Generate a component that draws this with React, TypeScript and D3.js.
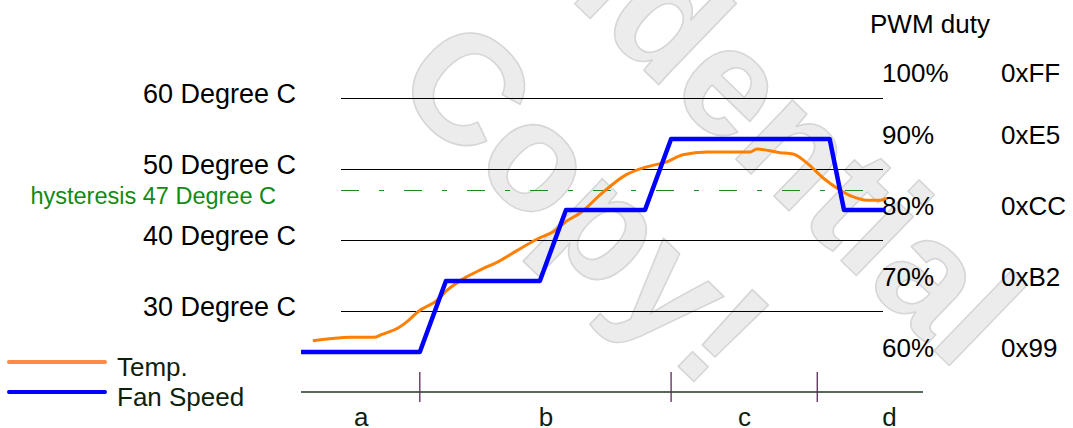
import {curveMonotoneX, line, scaleLinear} from "d3";

const TEMP_LEVELS = [60, 50, 40, 30];
const HYSTERESIS_C = 47;
const PWM_PERCENT = [100, 90, 80, 70, 60];
const PWM_HEX = ["0xFF", "0xE5", "0xCC", "0xB2", "0x99"];
const PHASE_NAMES = ["a", "b", "c", "d"];
const PHASE_BOUNDS = [19.1, 59.5, 83.0];
const PHASE_LABEL_AT = [9.7, 39.4, 71.3, 94.6];

// temperature trace (time 0..100, degree C)
const TEMP_TIME = [1.9, 8.0, 11.7, 13.0, 15.8, 17.2, 18.8, 21.7, 23.6, 26.4, 29.1, 31.8, 34.7, 37.9, 40.8, 42.6, 44.9, 48.4, 52.3, 55.6, 58.8, 61.4, 65.3, 72.2, 73.3, 77.0, 79.1, 81.4, 84.0, 86.2, 88.7, 91.0, 93.1, 94.2];
const TEMP_VALUE = [25.8, 26.3, 26.3, 26.7, 27.7, 28.6, 29.9, 31.4, 33.0, 34.7, 35.9, 37.0, 38.5, 40.1, 41.3, 42.6, 43.8, 46.6, 49.2, 50.3, 51.0, 52.0, 52.4, 52.4, 52.8, 52.3, 52.1, 50.8, 48.7, 47.3, 46.1, 45.6, 45.6, 45.9];

// fan duty steps
const FAN_TIME = [0, 19.1, 23.3, 38.4, 42.6, 55.3, 59.5, 85.0, 87.3, 93.9];
const FAN_DUTY = [60, 60, 70, 70, 80, 80, 90, 90, 80, 80];

const LEGEND = [
  {label: "Temp.", color: "#ff8a45"},
  {label: "Fan Speed", color: "#0000ff"}
];

const WATERMARK = ["Confidential", "Copy!"];

const FONT = "'Liberation Sans', Arial, Helvetica, sans-serif";

export default function App() {
  const width = 1073;
  const height = 428;

  const x = scaleLinear().domain([0, 100]).range([301, 923]);
  const yTemp = scaleLinear().domain([30, 60]).range([311, 98]);
  const yDuty = scaleLinear().domain([60, 90]).range([352, 139]);

  const gridLeft = 341;
  const gridRight = 883;
  const axisY = 392;

  const tempPoints = TEMP_TIME.map((t, i) => [t, TEMP_VALUE[i]] as [number, number]);
  const fanPoints = FAN_TIME.map((t, i) => [t, FAN_DUTY[i]] as [number, number]);

  const tempLine = line<[number, number]>()
    .x((d) => x(d[0]))
    .y((d) => yTemp(d[1]))
    .curve(curveMonotoneX);
  const fanLine = line<[number, number]>()
    .x((d) => x(d[0]))
    .y((d) => yDuty(d[1]));

  const headerY = 33;
  const rowBaseline = (pct: number) => Math.max(yDuty(pct) + 5, headerY + 49);

  return (
    <svg
      width={width}
      height={height}
      viewBox={`0 0 ${width} ${height}`}
      style={{position: "absolute", left: 0, top: 0, background: "#fff"}}
      fontFamily={FONT}
    >
      {/* watermark */}
      <g fill="#ececec" stroke="#d6d6d6" strokeWidth={1.6} strokeLinejoin="round" fontWeight="bold" fontSize={155}>
        <g transform="translate(389,87) rotate(44)">
          <text x={-288} y={-189}>{WATERMARK[0]}</text>
          <text x={0} y={0}>{WATERMARK[1]}</text>
        </g>
      </g>

      {TEMP_LEVELS.map((level) => (
        <g key={`t-${level}`}>
          <line
            x1={gridLeft}
            x2={gridRight}
            y1={yTemp(level)}
            y2={yTemp(level)}
            stroke="#000"
            strokeWidth={1}
            shapeRendering="crispEdges"
          />
          <text x={296} y={yTemp(level) + 5} textAnchor="end" fontSize={27} fill="#000">
            {level} Degree C
          </text>
        </g>
      ))}

      <line
        x1={gridLeft}
        x2={gridRight}
        y1={yTemp(HYSTERESIS_C)}
        y2={yTemp(HYSTERESIS_C)}
        stroke="#1f8a1f"
        strokeWidth={1}
        strokeDasharray="18 20 5 20"
        shapeRendering="crispEdges"
      />
      <text x={276} y={yTemp(HYSTERESIS_C) + 14} textAnchor="end" fontSize={23.5} fill="#138a13">
        hysteresis {HYSTERESIS_C} Degree C
      </text>

      <text x={870} y={headerY} fontSize={26} fill="#000">PWM duty</text>
      {PWM_PERCENT.map((pct, i) => (
        <g key={`p-${pct}`}>
          <text x={882} y={rowBaseline(pct)} fontSize={26} fill="#000">{pct}%</text>
          <text x={1001} y={rowBaseline(pct)} fontSize={26} fill="#000">{PWM_HEX[i]}</text>
        </g>
      ))}

      <path d={tempLine(tempPoints) ?? ""} fill="none" stroke="#ff8000" strokeWidth={3} strokeLinejoin="round" />
      <path d={fanLine(fanPoints) ?? ""} fill="none" stroke="#0000ff" strokeWidth={4.5} strokeLinejoin="round" />

      <line x1={x(0)} x2={x(100)} y1={axisY} y2={axisY} stroke="#1d3a1d" strokeWidth={1.3} />
      {PHASE_BOUNDS.map((b) => (
        <line key={`b-${b}`} x1={x(b)} x2={x(b)} y1={axisY - 20} y2={axisY + 10} stroke="#5a2a5a" strokeWidth={1.3} />
      ))}
      {PHASE_NAMES.map((name, i) => (
        <text key={name} x={x(PHASE_LABEL_AT[i])} y={426} textAnchor="middle" fontSize={26} fill="#0d1f0d">
          {name}
        </text>
      ))}

      {LEGEND.map((item, i) => (
        <g key={item.label} transform={`translate(0,${362 + i * 30})`}>
          <line x1={9} x2={105} y1={0} y2={0} stroke={item.color} strokeWidth={4} strokeLinecap="round" />
          <text x={117} y={14} fontSize={26} fill="#0d1f0d">{item.label}</text>
        </g>
      ))}
    </svg>
  );
}
